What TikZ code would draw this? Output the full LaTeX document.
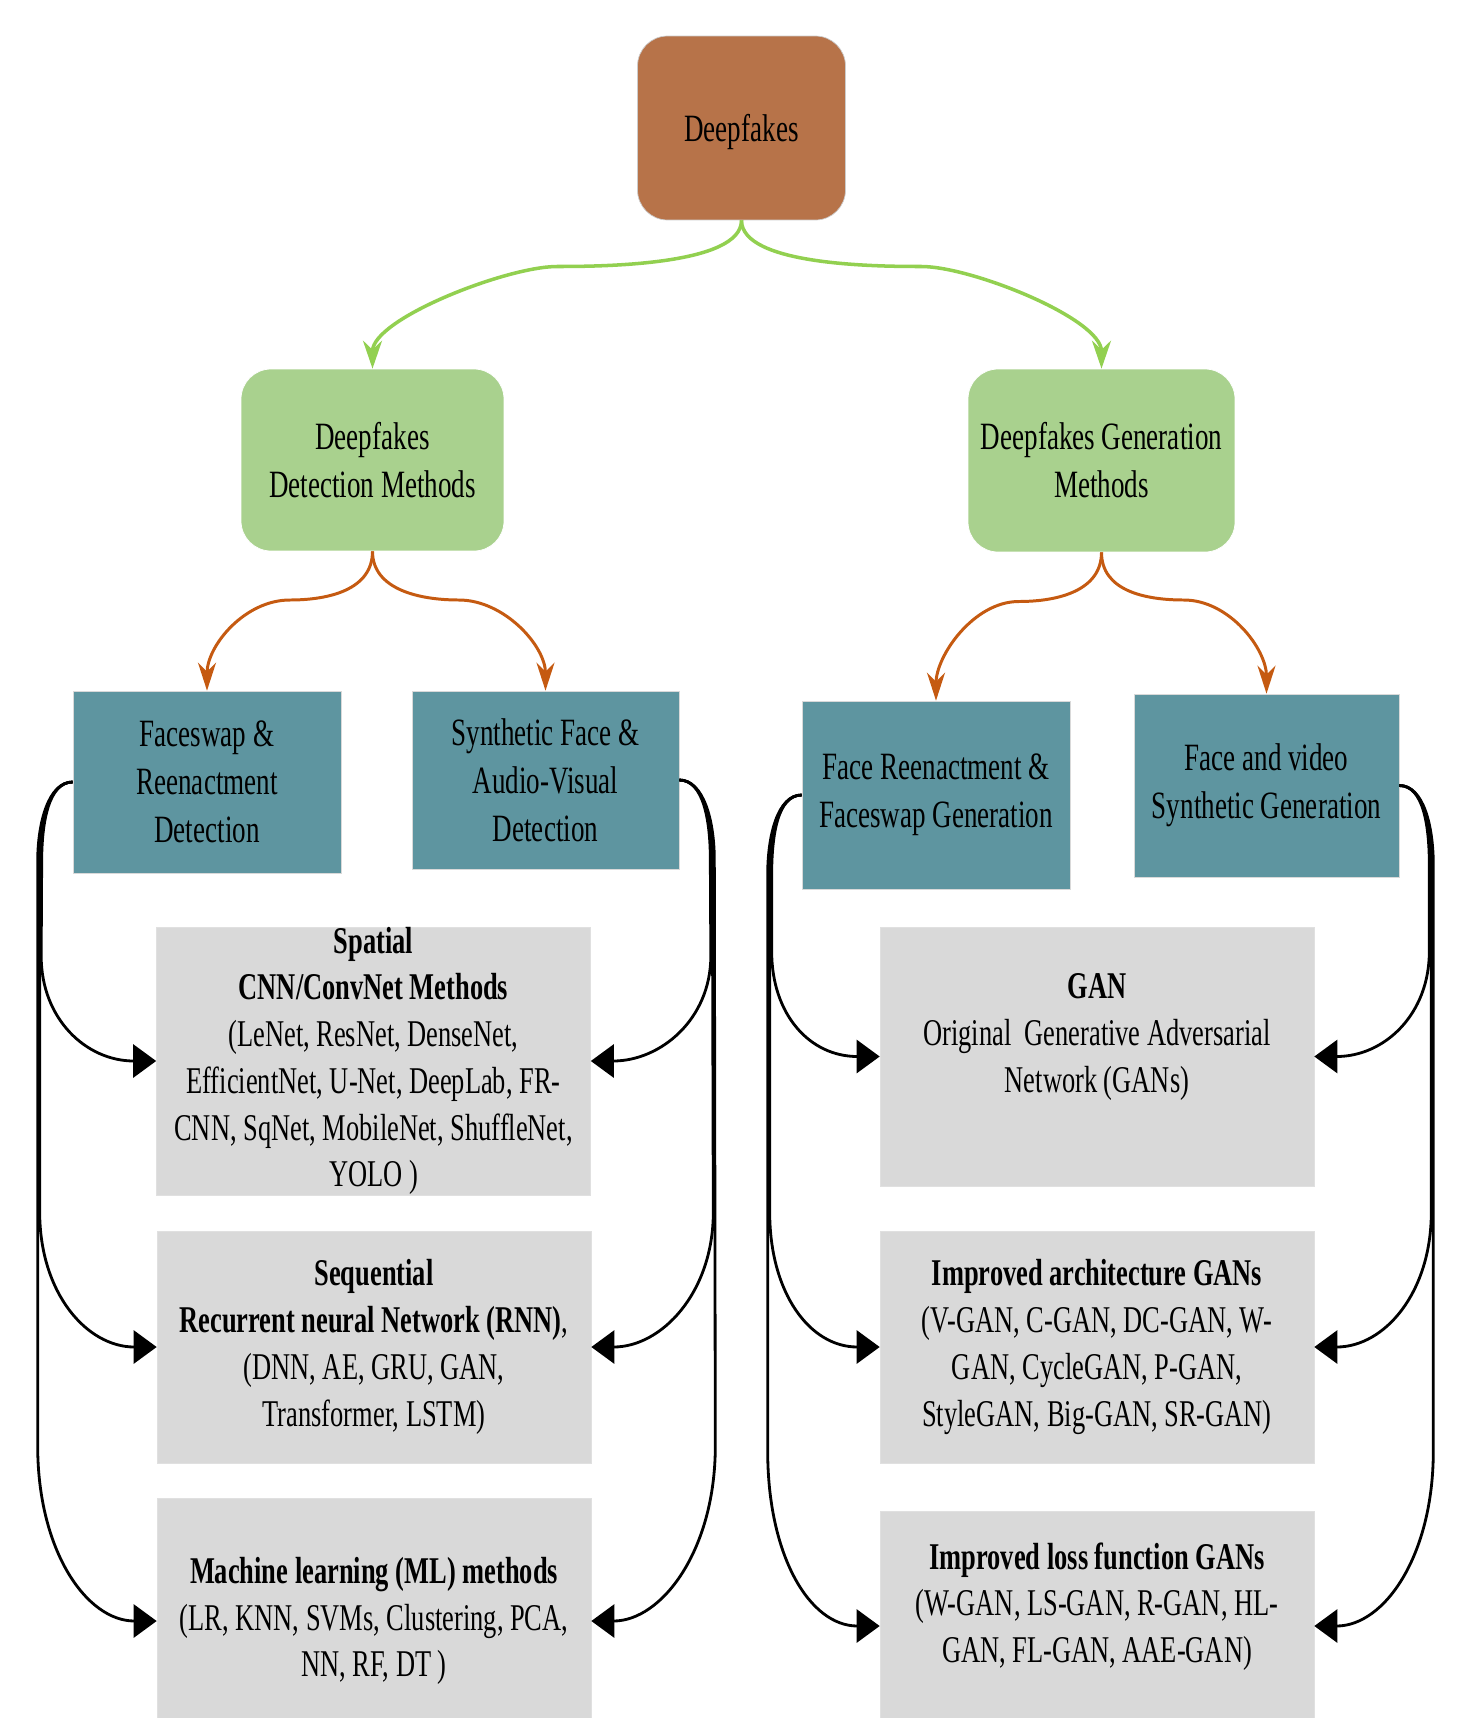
\documentclass[tikz,border=0pt]{standalone}
\usepackage{fontspec}
\setmainfont{Liberation Serif}[FakeStretch=0.7]
\usepackage{tikz}
\usetikzlibrary{arrows.meta,calc}

\definecolor{rootbrown}{HTML}{B77349}
\definecolor{methodgreen}{HTML}{A9D18E}
\definecolor{typeteal}{HTML}{5E95A0}
\definecolor{listgrey}{HTML}{D9D9D9}
\definecolor{greenline}{HTML}{92D050}
\definecolor{orangeline}{HTML}{C55A11}

\begin{document}
\begin{tikzpicture}[x=0.02cm,y=-0.02cm,
    basebox/.style={rectangle,inner sep=0pt,align=center,font=\fontsize{22}{27.3}\selectfont},
    rootbox/.style={basebox,rounded corners=0.6cm,fill=rootbrown,draw=black!20,text depth=0pt},
    methodbox/.style={basebox,rounded corners=0.6cm,fill=methodgreen,draw=white},
    typebox/.style={basebox,fill=typeteal,draw=black!15},
    listbox/.style={basebox,fill=listgrey,draw=black!12,minimum width=8.68cm,font=\fontsize{21.5}{26.6}\selectfont},
    greenarr/.style={draw=greenline,line width=2pt,-{Stealth[length=0.56cm,width=0.38cm]}},
    orangearr/.style={draw=orangeline,line width=1.7pt,-{Stealth[length=0.56cm,width=0.36cm]}},
    blackarr/.style={draw=black,line width=1.6pt,-{Triangle[length=0.46cm,width=0.66cm]}}]
  \clip (0,0) rectangle (1464,1718);

  % top levels
  \node[rootbox,minimum width=4.16cm,minimum height=3.68cm] (dfk) at (741.5,128) {Deepfakes};
  \node[methodbox,minimum width=5.26cm,minimum height=3.64cm] (det) at (372.5,460) {Deepfakes\\Detection Methods};
  \node[methodbox,minimum width=5.34cm,minimum height=3.66cm] (gen) at (1101.5,460.5) {Deepfakes Generation\\Methods};

  \node[typebox,minimum width=5.36cm,minimum height=3.64cm] (fsd) at (207,782) {Faceswap \&\\Reenactment\\Detection};
  \node[typebox,minimum width=5.34cm,minimum height=3.56cm] (sfd) at (545.5,780) {Synthetic Face \&\\Audio-Visual\\Detection};
  \node[typebox,minimum width=5.36cm,minimum height=3.76cm] (frg) at (936,795) {Face Reenactment \&\\Faceswap Generation};
  \node[typebox,minimum width=5.30cm,minimum height=3.66cm] (fvg) at (1266.5,785.5) {Face and video\\Synthetic Generation};

  % method lists
  \node[listbox,minimum height=5.32cm] (spa) at (373.5,1061) {\textbf{Spatial}\\\textbf{CNN/ConvNet Methods}\\(LeNet, ResNet, DenseNet,\\EfficientNet, U-Net, DeepLab, FR-\\CNN, SqNet, MobileNet, ShuffleNet,\\YOLO )};
  \node[listbox,minimum height=4.64cm] (seq) at (374,1347) {\textbf{Sequential}\\\textbf{Recurrent neural Network (RNN)},\\(DNN, AE, GRU, GAN,\\Transformer, LSTM)};
  \node[listbox,minimum height=4.92cm] (mlm) at (374,1621) {\textbf{Machine learning (ML) methods}\\(LR, KNN, SVMs, Clustering, PCA,\\NN, RF, DT )};
  \node[listbox,minimum height=5.18cm] (gan) at (1097,1056.5) {\textbf{GAN}\\Original\ \ Generative Adversarial\\Network (GANs)\\~};
  \node[listbox,minimum height=4.64cm] (arc) at (1097,1347) {\textbf{Improved architecture GANs}\\(V-GAN, C-GAN, DC-GAN, W-\\GAN, CycleGAN, P-GAN,\\StyleGAN, Big-GAN, SR-GAN)};
  \node[listbox,minimum height=4.60cm] (los) at (1097,1626) {\textbf{Improved loss function GANs}\\(W-GAN, LS-GAN, R-GAN, HL-\\GAN, FL-GAN, AAE-GAN)\\~};

  % splits
  \draw[greenarr] (dfk.south) .. controls +(0,45) and +(45,0) .. ($(dfk.south)!0.5!(det.north)+(0,-28)$) .. controls +(-50,0) and +(0,-50) .. (det.north);
  \draw[greenarr] (dfk.south) .. controls +(0,45) and +(-45,0) .. ($(dfk.south)!0.5!(gen.north)+(0,-28)$) .. controls +(50,0) and +(0,-50) .. (gen.north);
  \draw[orangearr] (det.south) .. controls +(0,38) and +(40,0) .. ($(det.south)!0.5!(fsd.north)+(0,-21)$) .. controls +(-45,0) and +(0,-45) .. (fsd.north);
  \draw[orangearr] (det.south) .. controls +(0,38) and +(-40,0) .. ($(det.south)!0.5!(sfd.north)+(0,-21)$) .. controls +(45,0) and +(0,-45) .. (sfd.north);
  \draw[orangearr] (gen.south) .. controls +(0,38) and +(40,0) .. ($(gen.south)!0.5!(frg.north)+(0,-25)$) .. controls +(-45,0) and +(0,-45) .. (frg.north);
  \draw[orangearr] (gen.south) .. controls +(0,38) and +(-40,0) .. ($(gen.south)!0.5!(fvg.north)+(0,-23)$) .. controls +(45,0) and +(0,-45) .. (fvg.north);

  % detection side
  \foreach \t/\o/\h in {spa/0/105,seq/2/135,mlm/4/175} {
    \draw[blackarr] (fsd.west) .. controls +(-24,0) and +(0,-40) .. ($(fsd.west)+(-31-\o,80)$) -- ($(\t.west)+(-115-\o,-\h)$) .. controls +(0,0.6*\h) and +(-70,0) .. (\t.west);
    \draw[blackarr] (sfd.east) .. controls +(24,0) and +(0,-40) .. ($(sfd.east)+(31+\o,80)$) -- ($(\t.east)+(120+\o,-\h)$) .. controls +(0,0.6*\h) and +(70,0) .. (\t.east);
  }
  % generation side
  \foreach \t/\o/\h in {gan/0/105,arc/2/135,los/4/175} {
    \draw[blackarr] (frg.west) .. controls +(-24,0) and +(0,-40) .. ($(frg.west)+(-30-\o,80)$) -- ($(\t.west)+(-108-\o,-\h)$) .. controls +(0,0.6*\h) and +(-70,0) .. (\t.west);
    \draw[blackarr] (fvg.east) .. controls +(24,0) and +(0,-40) .. ($(fvg.east)+(30+\o,80)$) -- ($(\t.east)+(115+\o,-\h)$) .. controls +(0,0.6*\h) and +(70,0) .. (\t.east);
  }
\end{tikzpicture}
\end{document}
